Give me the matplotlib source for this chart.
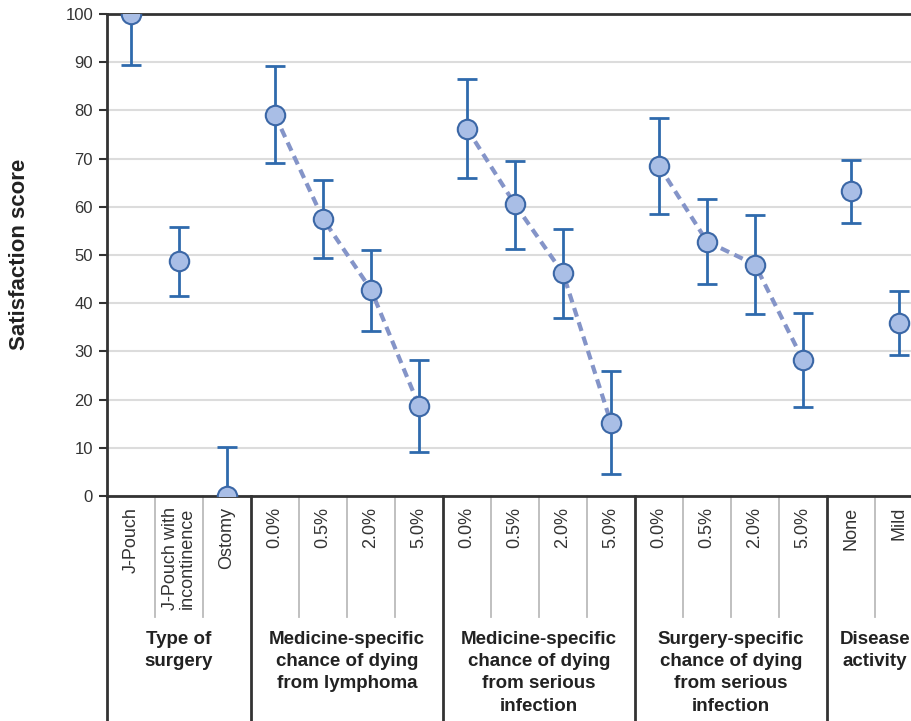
import matplotlib.pyplot as plt
import matplotlib.transforms as mtransforms
import numpy as np

plt.rcParams['font.family'] = ['Liberation Sans', 'DejaVu Sans']

# groups of attributes shown along the x axis
group_names = ['Type of\nsurgery',
               'Medicine-specific\nchance of dying\nfrom lymphoma',
               'Medicine-specific\nchance of dying\nfrom serious\ninfection',
               'Surgery-specific\nchance of dying\nfrom serious\ninfection',
               'Disease\nactivity']
group_levels = [['J-Pouch', 'J-Pouch with\nincontinence', 'Ostomy'],
                ['0.0%', '0.5%', '2.0%', '5.0%'],
                ['0.0%', '0.5%', '2.0%', '5.0%'],
                ['0.0%', '0.5%', '2.0%', '5.0%'],
                ['None', 'Mild']]
group_means = [[100, 48.7, 0],
               [79.0, 57.5, 42.8, 18.7],
               [76.2, 60.5, 46.2, 15.2],
               [68.5, 52.8, 48.0, 28.2],
               [63.2, 35.8]]
group_lower = [[89.5, 41.5, -10.2],
               [69.1, 49.4, 34.3, 9.1],
               [66.0, 51.2, 37.0, 4.6],
               [58.5, 44.0, 37.8, 18.5],
               [56.6, 29.3]]
group_upper = [[110.5, 55.8, 10.2],
               [89.2, 65.6, 51.0, 28.2],
               [86.5, 69.5, 55.4, 25.9],
               [78.4, 61.6, 58.3, 38.0],
               [69.7, 42.5]]
group_trend = [False, True, True, True, False]

fig = plt.figure(figsize=(9.12, 7.21), dpi=100)
ax = fig.add_axes([107 / 912, 225 / 721, 864 / 912, 482 / 721])
trans = mtransforms.blended_transform_factory(ax.transData, ax.transAxes)

dark = '#333333'
all_x = []
all_labels = []
pos = 0
for name, levels, means, lower, upper, trend in zip(group_names, group_levels, group_means,
                                                    group_lower, group_upper, group_trend):
    xs = np.arange(pos, pos + len(levels))
    means = np.array(means)
    yerr = [means - np.array(lower), np.array(upper) - means]
    if trend:
        ax.plot(xs, means, color='#8494c8', lw=3, linestyle=(0, (2.2, 1.4)), zorder=2)
    ax.errorbar(xs, means, yerr=yerr, fmt='none', ecolor='#2f6aad', elinewidth=2,
                capsize=7, capthick=2, zorder=3)
    ax.plot(xs, means, 'o', ms=14, mfc='#a9bee6', mec='#3b67a6', mew=1.5, zorder=4)

    # separators in the label area under the axis
    ax.plot([xs[0] - 0.5] * 2, [0, -0.5], transform=trans, color=dark, lw=2, clip_on=False)
    for xb in xs[:-1] + 0.5:
        ax.plot([xb, xb], [0, -0.251], transform=trans, color='#bbbbbb', lw=1.3, clip_on=False)
    ax.text(xs.mean(), -0.28, name, transform=trans, ha='center', va='top', fontsize=13.5,
            fontweight='bold', color='#222222', linespacing=1.4, clip_on=False)

    all_x.extend(xs)
    all_labels.extend(levels)
    pos += len(levels)

ax.set_xlim(-0.5, 17.5)
ax.set_ylim(0, 100)
ax.set_yticks(np.arange(0, 110, 10))
ax.set_xticks(all_x)
ax.set_xticklabels(all_labels, rotation=90, va='top', ha='center', fontsize=13,
                   color='#333333', linespacing=1.0)
ax.tick_params(axis='x', length=0, pad=8)
ax.tick_params(axis='y', length=6, width=1.5, color=dark, labelsize=12,
               labelcolor='#333333', pad=4)

ax.yaxis.grid(True, color='#dcdcdc', lw=1.5)
ax.set_axisbelow(True)
for side in ['top', 'left', 'bottom']:
    ax.spines[side].set_color(dark)
    ax.spines[side].set_linewidth(2)
ax.spines['right'].set_visible(False)

fig.text(20 / 912, 1 - 254 / 721, 'Satisfaction score', rotation=90, ha='center', va='center',
         fontsize=16, fontweight='bold', color='#222222')

plt.savefig('out.png', dpi=100)
